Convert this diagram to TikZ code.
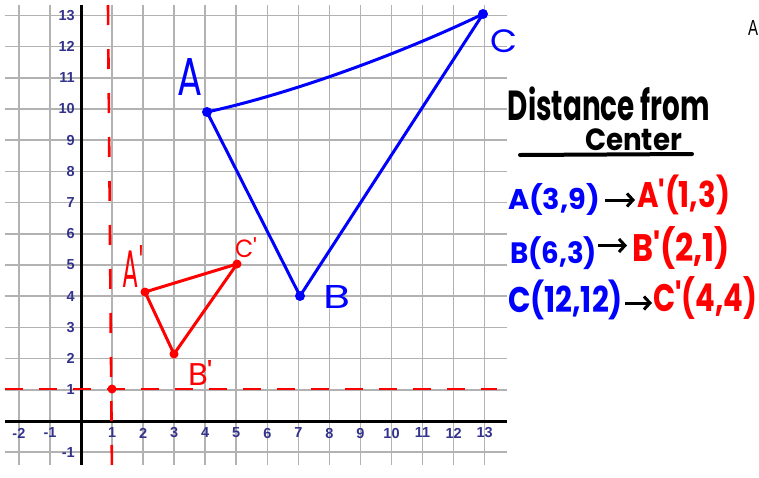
\documentclass[tikz,border=0pt]{standalone}
\usepackage{fontspec}
\usepackage{graphicx}
\usetikzlibrary{arrows.meta}
\newfontfamily\handfont{Poppins}
\newfontfamily\axisfont{Liberation Sans}
\definecolor{penblue}{RGB}{0,0,255}
\definecolor{penred}{RGB}{255,0,0}
\definecolor{axnavy}{RGB}{50,50,140}
\definecolor{gridgray}{RGB}{178,178,178}
\newcommand{\hw}[3]{\resizebox*{#1pt}{#2pt}{\handfont #3}}
\newcommand{\hwb}[3]{\resizebox*{#1pt}{#2pt}{\handfont\bfseries #3}}
\begin{document}
\begin{tikzpicture}[x=1pt,y=-1pt,
  gridline/.style={draw=gridgray,line width=1.6pt},
  axisline/.style={draw=black,line width=3pt},
  axlab/.style={font=\fontsize{14.5}{14.5}\selectfont\axisfont\bfseries,text=axnavy,inner sep=0pt},
  blueline/.style={draw=penblue,line width=3pt,line cap=round,line join=round},
  redline/.style={draw=penred,line width=3pt,line cap=round,line join=round},
  reddash/.style={draw=penred,line width=2.6pt,dash pattern=on 20pt off 24pt},
  txt/.style={inner sep=0pt,outer sep=0pt},
  arr/.style={draw=black,line width=3pt,-{Straight Barb[length=6pt,width=13pt]}}]
\useasboundingbox (0,0) rectangle (759,477);
\clip (0,0) rectangle (759,477);
% grid
\foreach \k in {-2,...,13} {\draw[gridline] ({81+31.05*\k},5) -- ({81+31.05*\k},465);}
\foreach \k in {-1,...,13} {\draw[gridline] (5,{421-31.2*\k}) -- (507,{421-31.2*\k});}
\draw[axisline] (81,5) -- (81,465);
\draw[axisline] (5,421) -- (507,421);
\foreach \k in {-2,-1,1,2,3,4,5,6,7,8,9,10,11,12,13} {\node[axlab] (xl\k) at ({81+31.05*\k},433) {\k};}
\foreach \k in {-1,1,2,3,4,5,6,7,8,9,10,11,12,13} {\node[axlab,anchor=east] (yl\k) at (75,{421-31.2*\k}) {\k};}
% red dashed center lines
\coordinate (vtop) at (108,5);
\coordinate (vbot) at (112,477);
\coordinate (hleft) at (5,389);
\coordinate (hright) at (497,389);
\draw[reddash] (vtop) -- (vbot);
\draw[reddash,dash pattern=on 18pt off 16pt] (hleft) -- (hright);
\coordinate (O) at (112,389);
\fill[penred] (O) circle[radius=4.5pt];
% blue triangle
\coordinate (A) at (207,112);
\coordinate (B) at (300,296);
\coordinate (C) at (483,14);
\draw[blueline] (A) .. controls (290,94) and (400,54) .. (C);
\draw[blueline] (A) -- (B);
\draw[blueline] (C) -- (B);
\foreach \p in {A,B,C} {\fill[penblue] (\p) circle[radius=5pt];}
\node[txt,text=penblue] (lA) at (189.5,76.5) {\hw{25}{37}{A}};
\node[txt,text=penblue] (lC) at (503.5,41.5) {\hw{27}{23}{C}};
\node[txt,text=penblue] (lB) at (336.5,296.5) {\hw{27}{23}{B}};
% red triangle
\coordinate (Ap) at (145,292);
\coordinate (Bp) at (174,354);
\coordinate (Cp) at (237,264);
\draw[redline] (Ap) -- (Cp) -- (Bp) -- cycle;
\foreach \p in {Ap,Bp,Cp} {\fill[penred] (\p) circle[radius=4.5pt];}
\node[txt,text=penred] (lAp) at (133,266) {\hw{20}{42}{A'}};
\node[txt,text=penred] (lCp) at (246,248) {\hw{22}{20}{C'}};
\node[txt,text=penred] (lBp) at (200.5,372.5) {\hw{25}{25}{B'}};
% right column
\node[txt] (t1) at (609,104) {\hwb{202}{34}{Distance from}};
\node[txt] (t2) at (633.5,140) {\hwb{97}{22}{Center}};
\coordinate (ul1) at (520,155);
\coordinate (ul2) at (692,154);
\draw[line width=4pt,line cap=round] (ul1) -- (ul2);
\node[txt,text=penblue] (r1a) at (554,199) {\hwb{92}{32}{A(3,9)}};
\node[txt,text=penred] (r1b) at (683.5,195) {\hwb{93}{40}{A'(1,3)}};
\node[txt,text=penblue] (r2a) at (553.5,253.5) {\hwb{87}{33}{B(6,3)}};
\node[txt,text=penred] (r2b) at (681,248.5) {\hwb{98}{43}{B'(2,1)}};
\node[txt,text=penblue] (r3a) at (565.5,300) {\hwb{115}{40}{C(12,12)}};
\node[txt,text=penred] (r3b) at (705,298.5) {\hwb{104}{43}{C'(4,4)}};
\coordinate (a1s) at ([yshift=-1pt]r1a.east);
\coordinate (a2s) at ([yshift=8pt]r2a.east);
\coordinate (a3s) at ([yshift=-3pt]r3a.east);
\draw[arr,shorten <=5pt,shorten >=2pt] (a1s) -- (a1s -| r1b.west);
\draw[arr,shorten <=1pt,shorten >=5pt] (a2s) -- (a2s -| r2b.west);
\draw[arr,shorten <=2pt,shorten >=1pt] (a3s) -- (a3s -| r3b.west);
\node[txt,anchor=east] (corner) at (758,27.5) {\resizebox*{10pt}{15pt}{\axisfont A}};
\end{tikzpicture}
\end{document}
